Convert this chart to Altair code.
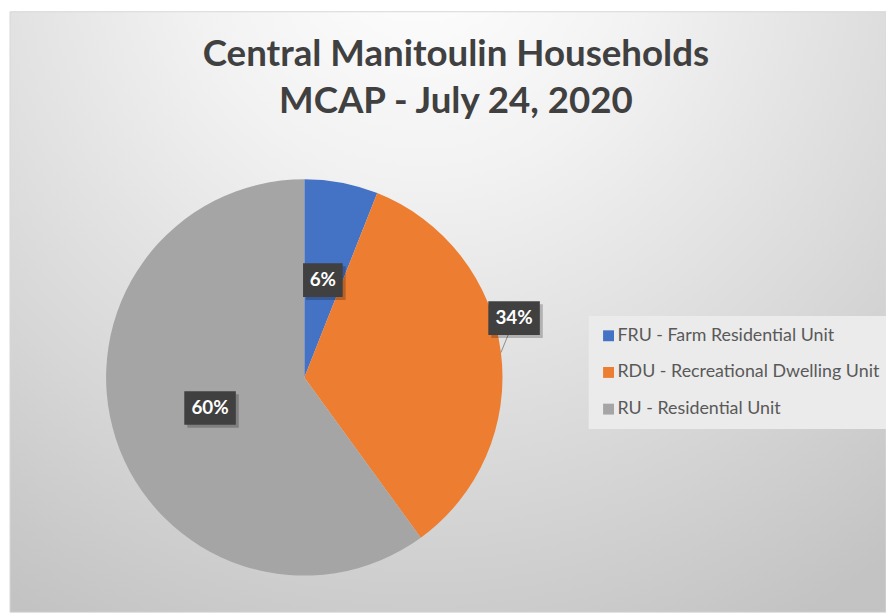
import altair as alt
import pandas as pd

# ---- data ----
categories = ["FRU - Farm Residential Unit",
              "RDU - Recreational Dwelling Unit",
              "RU - Residential Unit"]
shares = [6, 34, 60]
labels = ["6%", "34%", "60%"]
order = [0, 1, 2]
colors = ["#4472C4", "#ED7D31", "#A5A5A5"]
title_lines = ["Central Manitoulin Households", "MCAP - July 24, 2020"]

df = pd.DataFrame({"category": categories, "share": shares,
                   "label": labels, "order": order})

# ---- layout ----
W, H = 886, 607
CX, CY, R = 299, 370, 200
OUT = categories[1]

color_scale = alt.Scale(domain=categories, range=colors)

bg = alt.Chart(pd.DataFrame({"a": [0]})).mark_rect(
    color=alt.Gradient(
        gradient="radial",
        stops=[alt.GradientStop(offset=0, color="#ffffff"),
               alt.GradientStop(offset=0.3, color="#f2f2f2"),
               alt.GradientStop(offset=1, color="#c3c3c3")],
        x1=0.47, y1=0.08, r1=0, x2=0.47, y2=0.08, r2=0.88),
    stroke="#d9d9d9", strokeWidth=1,
).encode(x=alt.value(2), x2=alt.value(W), y=alt.value(1), y2=alt.value(H))

title = alt.Chart(pd.DataFrame({"a": [0]})).mark_text(
    font="Lato", fontWeight="bold", fontSize=37, color="#404040",
    align="center", baseline="alphabetic", lineHeight=47,
).encode(x=alt.value(452), y=alt.value(56), text=alt.value(title_lines))

pie = alt.Chart(df).mark_arc(radius=R).encode(
    theta=alt.Theta("share:Q", stack=True),
    color=alt.Color("category:N", scale=color_scale, sort=categories,
                    legend=alt.Legend(
                        title=None, orient="none", legendX=586, legendY=308,
                        fillColor="#ebebeb", padding=11,
                        symbolType="square", symbolSize=121,
                        symbolStrokeWidth=0, symbolOpacity=1,
                        labelFont="Lato", labelFontSize=18,
                        labelColor="#595959", rowPadding=19,
                        labelOffset=0, labelLimit=400)),
    order=alt.Order("order:Q"),
    x=alt.value(CX), y=alt.value(CY),
)

lab = alt.Chart(df).transform_joinaggregate(
    total="sum(share)"
).transform_window(
    cum="sum(share)", sort=[alt.SortField("order")], frame=[None, 0]
).transform_calculate(
    mid="(datum.cum - datum.share / 2) / datum.total * 2 * PI",
    out=f"datum.category == '{OUT}'",
).transform_calculate(
    ang="datum.out ? datum.mid - 0.15 : datum.mid",
    lr="datum.out ? 220 : 100",
).transform_calculate(
    lx=f"{CX} + datum.lr * sin(datum.ang)",
    ly=f"{CY} - datum.lr * cos(datum.ang)",
    ex=f"{CX} + {R} * sin(datum.mid)",
    ey=f"{CY} - {R} * cos(datum.mid)",
    bw="16 + 12 * length(datum.label)",
).transform_calculate(
    bx="datum.lx - datum.bw / 2", bx2="datum.lx + datum.bw / 2",
    by="datum.ly - 17", by2="datum.ly + 17",
    sx="datum.lx - datum.bw / 2 + 3", sx2="datum.lx + datum.bw / 2 + 3",
    sy="datum.ly - 14", sy2="datum.ly + 20",
    tx="datum.lx - 6", ty="datum.ly + 17",
)

leader = lab.transform_filter("datum.out").mark_rule(
    color="#8c8c8c", strokeWidth=1
).encode(
    x=alt.X("ex:Q", scale=None, axis=None),
    y=alt.Y("ey:Q", scale=None, axis=None),
    x2="tx:Q", y2="ty:Q",
)

shadow = lab.mark_rect(color="#000000", opacity=0.22).encode(
    x=alt.X("sx:Q", scale=None, axis=None), x2="sx2:Q",
    y=alt.Y("sy:Q", scale=None, axis=None), y2="sy2:Q",
)

box = lab.mark_rect(color="#404040").encode(
    x=alt.X("bx:Q", scale=None, axis=None), x2="bx2:Q",
    y=alt.Y("by:Q", scale=None, axis=None), y2="by2:Q",
)

txt = lab.mark_text(
    font="Lato", fontWeight="bold", fontSize=19, color="#ffffff",
    align="center", baseline="middle",
).encode(
    x=alt.X("lx:Q", scale=None, axis=None),
    y=alt.Y("ly:Q", scale=None, axis=None),
    text="label:N",
)

chart = alt.layer(bg, title, pie, leader, shadow, box, txt).properties(
    width=W, height=H, padding=0,
    autosize=alt.AutoSizeParams(type="none"),
).configure_view(stroke=None)

chart.save("out.html", embed_options={"renderer": "svg", "actions": False})
